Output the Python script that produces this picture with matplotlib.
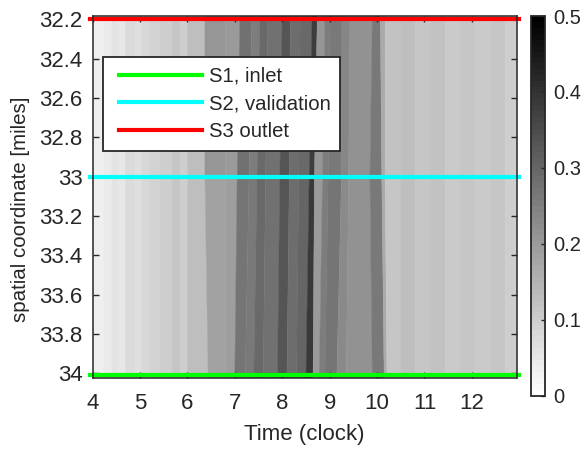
import matplotlib
matplotlib.use("Agg")
import matplotlib.pyplot as plt
import numpy as np

plt.rcParams["font.family"] = ["Liberation Sans", "DejaVu Sans"]
dark = "#262626"

# cell boundaries in time, read at the top, middle and bottom of the road stretch
edges_top = [4.0, 4.24, 4.41, 4.54, 4.69, 4.9, 5.04, 5.21, 5.42, 5.68, 5.85, 6.01, 6.37,
             6.8, 7.11, 7.36, 7.53, 7.7, 8.0, 8.17, 8.38, 8.63, 8.74, 8.9, 9.01, 9.26,
             9.43, 9.9, 10.07, 10.17, 10.49, 10.8, 11.12, 11.44, 11.75, 12.07, 12.39,
             12.7, 12.95]
edges_mid = [4.0, 4.24, 4.41, 4.54, 4.69, 4.9, 5.04, 5.21, 5.42, 5.68, 5.85, 6.01, 6.37,
             6.8, 7.05, 7.3, 7.47, 7.65, 7.95, 8.15, 8.35, 8.57, 8.68, 8.85, 8.97, 9.25,
             9.4, 9.85, 10.1, 10.17, 10.49, 10.8, 11.12, 11.44, 11.75, 12.07, 12.39,
             12.7, 12.95]
edges_bot = [4.0, 4.24, 4.41, 4.54, 4.69, 4.9, 5.04, 5.21, 5.42, 5.68, 5.85, 6.01, 6.44,
             6.8, 7.0, 7.22, 7.4, 7.6, 7.9, 8.1, 8.3, 8.5, 8.65, 8.78, 8.9, 9.15,
             9.35, 9.9, 10.15, 10.21, 10.49, 10.8, 11.12, 11.44, 11.75, 12.07, 12.39,
             12.7, 12.95]

# density per cell, upper half (above S2) and lower half
density_upper = [.033, .045, .059, .049, .073, .065, .084, .092, .098, .112, .098, .127,
                 .206, .202, .275, .255, .294, .275, .333, .284, .294, .382, .206, .255,
                 .265, .235, .216, .265, .167, .118, .125, .11, .12, .105, .115, .105,
                 .11, .1]
density_lower = [.033, .045, .059, .049, .073, .065, .084, .092, .098, .112, .098, .127,
                 .185, .19, .27, .26, .295, .28, .335, .285, .3, .385, .2, .255,
                 .27, .23, .215, .26, .17, .115, .125, .11, .12, .105, .115, .105,
                 .11, .1]

y_edges = [32.18, 33, 34.03]
xticks = [4, 5, 6, 7, 8, 9, 10, 11, 12]
yticks = [32.2, 32.4, 32.6, 32.8, 33, 33.2, 33.4, 33.6, 33.8, 34]
ylabels = ["32.2", "32.4", "32.6", "32.8", "33", "33.2", "33.4", "33.6", "33.8", "34"]
cticks = [0, 0.1, 0.2, 0.3, 0.4, 0.5]
clabels = ["0", "0.1", "0.2", "0.3", "0.4", "0.5"]

W, H = 584, 450
fig = plt.figure(figsize=(W / 100, H / 100), dpi=100)
ax = fig.add_axes([92.5 / W, 1 - 378 / H, 424 / W, 362 / H])
cax = fig.add_axes([530.5 / W, 1 - 395.5 / H, 14.5 / W, 379.5 / H])

X = np.array([edges_top, edges_mid, edges_bot])
Y = np.tile(np.array(y_edges)[:, None], (1, X.shape[1]))
C = np.array([density_upper, density_lower])
cmap = plt.get_cmap("gray_r", 64)
mesh = ax.pcolormesh(X, Y, C, cmap=cmap, vmin=0, vmax=0.5, shading="flat",
                     edgecolors="face", linewidth=0.3, antialiased=True)
mesh.set_snap(False)

ax.plot([3.95, 13.0], [34.01, 34.01], color="#00ff00", lw=3, clip_on=False, label="S1, inlet", zorder=3)
ax.plot([3.95, 13.0], [33, 33], color="#00ffff", lw=3, clip_on=False, label="S2, validation", zorder=3)
ax.plot([3.95, 13.0], [32.2, 32.2], color="#ff0000", lw=3, clip_on=False, label="S3 outlet", zorder=3)

ax.set_xlim(4, 12.94)
ax.set_ylim(34.023, 32.184)
ax.set_xticks(xticks)
ax.set_yticks(yticks)
ax.set_yticklabels(ylabels)
ax.tick_params(direction="in", top=True, right=True, length=4.5, width=1, color=dark,
               labelcolor=dark, labelsize=16, pad=11)
ax.tick_params(axis="y", pad=7)
for s in ax.spines.values():
    s.set_color(dark)
    s.set_linewidth(1.1)
    s.set_zorder(4)
ax.set_xlabel("Time (clock)", fontsize=16, color=dark, labelpad=7)
ax.set_ylabel("spatial coordinate [miles]", fontsize=14.8, color=dark)
ax.yaxis.set_label_coords((30 - 92.5) / 424, 1 - (209 - 16) / 362)

leg = ax.legend(loc="upper left", bbox_to_anchor=(10 / 424, 1 - 41 / 362), fontsize=14.6,
                handlelength=4.45, handletextpad=0.3, borderpad=0.48, labelspacing=0.43,
                borderaxespad=0, fancybox=False, framealpha=1, edgecolor=dark)
leg.get_frame().set_linewidth(1.3)
leg.set_zorder(5)
for t in leg.get_texts():
    t.set_color(dark)
# legend lines start a little further in than the box padding allows
for line in leg.get_lines():
    xd = np.array(line.get_xdata(), dtype=float)
    xd[0] += 5
    line.set_xdata(xd)

cb = fig.colorbar(mesh, cax=cax)
cb.set_ticks(cticks)
cb.set_ticklabels(clabels)
cb.ax.tick_params(direction="in", length=3, width=1, color=dark, labelcolor=dark,
                  labelsize=14.5, pad=6)
cb.outline.set_edgecolor(dark)
cb.outline.set_linewidth(1.3)

fig.savefig("out.png", dpi=100)
